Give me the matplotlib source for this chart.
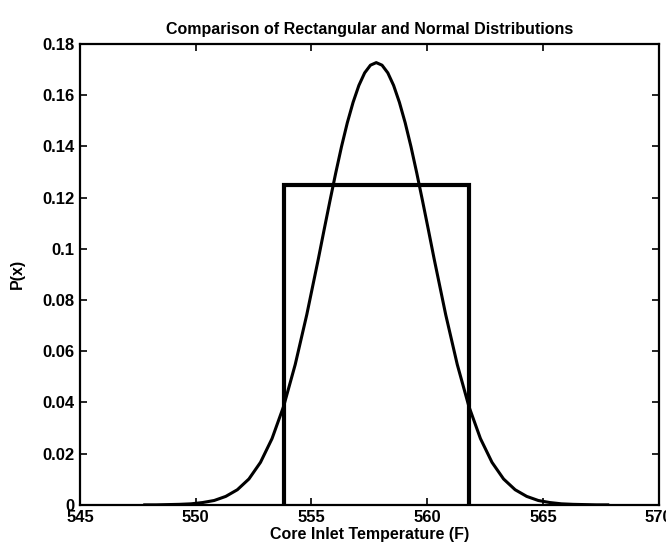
import matplotlib
matplotlib.use('Agg')
import matplotlib.pyplot as plt
from matplotlib import font_manager

# Temperature grid (F) and normal density values
tempNormal = [547.8, 548.3, 548.8, 549.3, 549.8, 550.3, 550.8, 551.3, 551.8, 552.3,
              552.8, 553.3, 553.8, 554.3, 554.8, 555.3, 555.55, 555.8, 556.05, 556.3,
              556.55, 556.8, 557.05, 557.3, 557.55, 557.8, 558.05, 558.3, 558.55, 558.8,
              559.05, 559.3, 559.55, 559.8, 560.05, 560.3, 560.8, 561.3, 561.8, 562.3,
              562.8, 563.3, 563.8, 564.3, 564.8, 565.3, 565.8, 566.3, 566.8, 567.3,
              567.8]
pNormal = [0.0000, 0.0000, 0.0001, 0.0002, 0.0004, 0.0009, 0.0017, 0.0033, 0.0059, 0.0101,
           0.0166, 0.0259, 0.0385, 0.0548, 0.0743, 0.0961, 0.1075, 0.1187, 0.1296, 0.1399,
           0.1492, 0.1572, 0.1638, 0.1687, 0.1717, 0.1727, 0.1717, 0.1687, 0.1638, 0.1572,
           0.1492, 0.1399, 0.1296, 0.1187, 0.1075, 0.0961, 0.0743, 0.0548, 0.0385, 0.0259,
           0.0166, 0.0101, 0.0059, 0.0033, 0.0017, 0.0009, 0.0004, 0.0002, 0.0001, 0.0000,
           0.0000]

# Rectangular distribution: edges and height
rectLow = 553.8
rectHigh = 561.8
rectHeight = 0.125

xTicks = [545, 550, 555, 560, 565, 570]
yTicks = [0, 0.02, 0.04, 0.06, 0.08, 0.1, 0.12, 0.14, 0.16, 0.18]
yTickLabels = ['0', '0.02', '0.04', '0.06', '0.08', '0.1', '0.12', '0.14', '0.16', '0.18']

names = {f.name for f in font_manager.fontManager.ttflist}
family = [f for f in ['Liberation Sans Narrow', 'Liberation Sans', 'DejaVu Sans'] if f in names]
plt.rcParams['font.family'] = family
plt.rcParams['font.weight'] = 'bold'
plt.rcParams['axes.titleweight'] = 'bold'
plt.rcParams['axes.labelweight'] = 'bold'

fig = plt.figure(figsize=(6.66, 5.56), dpi=100)
ax = fig.add_axes([0.120, 0.092, 0.869, 0.829])

ax.plot(tempNormal, pNormal, color='black', linewidth=2.2, solid_joinstyle='round')
ax.plot([rectLow, rectLow, rectHigh, rectHigh], [0, rectHeight, rectHeight, 0],
        color='black', linewidth=3.0, solid_joinstyle='miter')

ax.set_xlim(545, 570)
ax.set_ylim(0, 0.18)
ax.set_xticks(xTicks)
ax.set_yticks(yTicks)
ax.set_yticklabels(yTickLabels)
ax.tick_params(direction='in', length=5, width=1.2, top=True, right=True,
               labelsize=12, pad=4)
for sp in ax.spines.values():
    sp.set_linewidth(1.6)

ax.set_title('Comparison of Rectangular and Normal Distributions', fontsize=11.5, pad=7)
ax.set_xlabel('Core Inlet Temperature (F)', fontsize=11.5, labelpad=1)
ax.set_ylabel('P(x)', fontsize=11.5)
ax.yaxis.set_label_coords(-0.095, 0.5)

fig.savefig('out.png', dpi=100)
